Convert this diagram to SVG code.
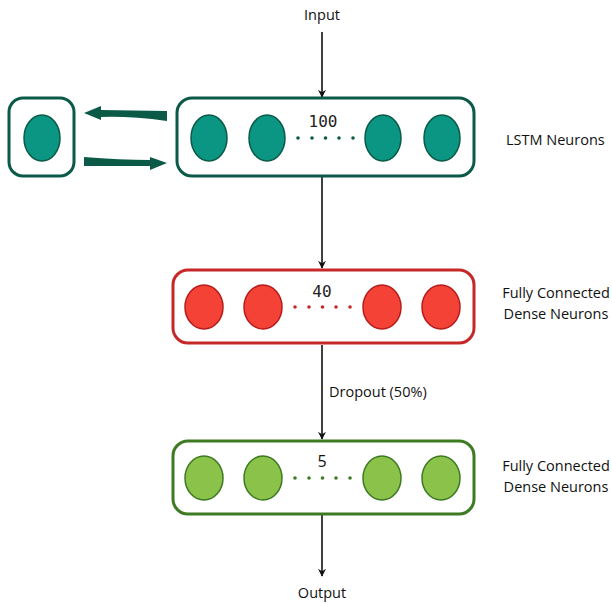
<svg xmlns="http://www.w3.org/2000/svg" width="612" height="603" viewBox="0 0 612 603">
<defs>
<style>
.lbl{font-family:"Open Sans","Liberation Sans",sans-serif;font-size:14.5px;fill:#111}
.num{font-family:"DejaVu Sans Mono","Liberation Mono",monospace;font-size:16px;fill:#222;text-anchor:middle}
.box-l{fill:#fff;stroke:#0b5a48;stroke-width:3}
.box-r{fill:#fff;stroke:#c62828;stroke-width:3}
.box-g{fill:#fff;stroke:#3d7a22;stroke-width:3}
.n-l{fill:#0a9682;stroke:#0b5a48;stroke-width:1.5}
.n-r{fill:#f44336;stroke:#b71c1c;stroke-width:1.5}
.n-g{fill:#8bc34a;stroke:#3d7a22;stroke-width:1.5}
.conn{stroke:#111;stroke-width:1.6;fill:none;marker-end:url(#ah)}
</style>
<marker id="ah" viewBox="0 0 10 10" refX="9" refY="5" markerWidth="8" markerHeight="8" markerUnits="userSpaceOnUse" orient="auto">
<path d="M0,0 L10,5 L0,10 L3,5 Z" fill="#111"/>
</marker>
</defs>
<rect width="612" height="603" fill="#fff"/>
<g id="connectors">
<line class="conn" x1="322" y1="32" x2="322" y2="97"/>
<line class="conn" x1="322" y1="177" x2="322" y2="268"/>
<line class="conn" x1="322" y1="345" x2="322" y2="439"/>
<line class="conn" x1="322" y1="515" x2="322" y2="576"/>
<path id="rec-left" d="M84,113 L101,106 L101,110 L167,111 L167,121 Q130,116 101,117 L101,120 Z" fill="#0b5a48"/>
<path id="rec-right" d="M167,163 L150,170 L150,166 L84,166 L84,157 Q120,160 150,160 L150,157 Z" fill="#0b5a48"/>
</g>
<g id="input"><text class="lbl" x="322" y="20" text-anchor="middle">Input</text></g>
<g id="output"><text class="lbl" x="322" y="598" text-anchor="middle">Output</text></g>
<g id="recurrent-node">
<rect class="box-l" x="9" y="98" width="65" height="78" rx="14"/>
<ellipse class="n-l" cx="42" cy="138" rx="18" ry="23"/>
</g>
<g id="lstm-layer">
<rect class="box-l" x="177" y="98" width="297" height="78" rx="15"/>
<ellipse class="n-l" cx="209" cy="138" rx="18" ry="23"/>
<ellipse class="n-l" cx="267" cy="138" rx="18" ry="23"/>
<ellipse class="n-l" cx="383" cy="138" rx="18" ry="23"/>
<ellipse class="n-l" cx="442" cy="138" rx="18" ry="23"/>
<text class="num" x="323" y="127">100</text>
<g fill="#0b5a48"><circle cx="298" cy="138" r="1.8"/><circle cx="312" cy="138" r="1.8"/><circle cx="325.5" cy="138" r="1.8"/><circle cx="339" cy="138" r="1.8"/><circle cx="353" cy="138" r="1.8"/></g>
<text class="lbl" x="506" y="145">LSTM Neurons</text>
</g>
<g id="dense-40">
<rect class="box-r" x="173" y="270" width="301" height="73" rx="15"/>
<ellipse class="n-r" cx="204" cy="307" rx="19" ry="22"/>
<ellipse class="n-r" cx="263" cy="307" rx="19" ry="22"/>
<ellipse class="n-r" cx="382" cy="307" rx="19" ry="22"/>
<ellipse class="n-r" cx="441" cy="307" rx="19" ry="22"/>
<text class="num" x="322" y="297">40</text>
<g fill="#c62828"><circle cx="295" cy="307" r="1.8"/><circle cx="309" cy="307" r="1.8"/><circle cx="322.5" cy="307" r="1.8"/><circle cx="336" cy="307" r="1.8"/><circle cx="350" cy="307" r="1.8"/></g>
<text class="lbl" x="556" y="298" text-anchor="middle">Fully Connected</text>
<text class="lbl" x="556" y="319" text-anchor="middle">Dense Neurons</text>
</g>
<g id="dropout"><text class="lbl" x="329" y="397">Dropout (50%)</text></g>
<g id="dense-5">
<rect class="box-g" x="173" y="441" width="301" height="73" rx="15"/>
<ellipse class="n-g" cx="204" cy="478" rx="19" ry="22"/>
<ellipse class="n-g" cx="263" cy="478" rx="19" ry="22"/>
<ellipse class="n-g" cx="382" cy="478" rx="19" ry="22"/>
<ellipse class="n-g" cx="441" cy="478" rx="19" ry="22"/>
<text class="lbl" x="322" y="467" text-anchor="middle" style="font-size:16px">5</text>
<g fill="#3d7a22"><circle cx="295" cy="478" r="1.8"/><circle cx="309" cy="478" r="1.8"/><circle cx="322.5" cy="478" r="1.8"/><circle cx="336" cy="478" r="1.8"/><circle cx="350" cy="478" r="1.8"/></g>
<text class="lbl" x="556" y="471" text-anchor="middle">Fully Connected</text>
<text class="lbl" x="556" y="492" text-anchor="middle">Dense Neurons</text>
</g>
</svg>
